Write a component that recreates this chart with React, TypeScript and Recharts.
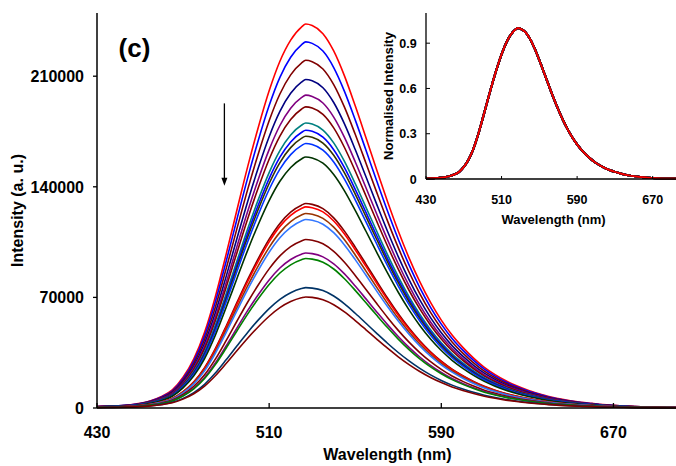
import React from 'react';
import { LineChart, Line, XAxis, YAxis, ReferenceLine, ReferenceDot } from 'recharts';

// Wavelength grid (nm)
const wavelengths = [
  430, 435, 440, 445, 450, 455, 460, 465, 470, 475, 480, 485, 490, 495, 500, 505, 510, 515, 520, 525, 527,
  530, 535, 540, 545, 550, 555, 560, 565, 570, 575, 580, 585, 590, 595, 600, 605, 610, 615, 620, 625, 630,
  635, 640, 645, 650, 655, 660, 665, 670, 680, 690, 700,
];

const normalisedProfile = [
  0.004, 0.005, 0.006, 0.008, 0.012, 0.019, 0.03, 0.047, 0.08, 0.128, 0.197, 0.29, 0.4, 0.515, 0.628, 0.732,
  0.826, 0.903, 0.958, 0.992, 1.0,
  0.996, 0.975, 0.93, 0.865, 0.787, 0.704, 0.62, 0.538, 0.461, 0.391, 0.329, 0.275, 0.229, 0.19, 0.158, 0.13,
  0.106, 0.087, 0.071, 0.058, 0.047, 0.038, 0.03, 0.024, 0.019, 0.015, 0.012, 0.009, 0.007, 0.004, 0.003, 0.002,
];

// Peak intensities (a. u.) of each spectrum, top to bottom
const peakIntensities = [
  243000, 231700, 220100, 207900, 198000, 190600, 180400, 175800, 172000, 167400, 158900,
  129400, 127300, 123100, 119300, 106600, 98100, 94600, 76200, 70300,
];

const seriesColors = [
  '#FF0000', '#0000FF', '#800000', '#000080', '#800080', '#800000', '#008080', '#0000FF', '#333300', '#0033FF', '#003300',
  '#800000', '#FF0000', '#993300', '#3377FF', '#800000', '#800080', '#008000', '#003366', '#800000',
];

const xTicks = [430, 510, 590, 670];
const yTicks = [0, 70000, 140000, 210000];
const insetYTicks = [0, 0.3, 0.6, 0.9];

const FONT = '"Liberation Sans", Arial, Helvetica, sans-serif';

const seriesKeys = peakIntensities.map((_, i) => `s${i}`);

const mainData = wavelengths.map((w, j) => {
  const row: Record<string, number> = { wl: w };
  peakIntensities.forEach((p, i) => {
    row[`s${i}`] = Math.round(p * normalisedProfile[j]);
  });
  return row;
});

const insetData = wavelengths.map((w, j) => {
  const row: Record<string, number> = { wl: w };
  peakIntensities.forEach((_, i) => {
    row[`s${i}`] = normalisedProfile[j];
  });
  return row;
});

const MainXTick = (props: any) => {
  const { x, y, payload } = props;
  return (
    <g>
      <line x1={x} x2={x} y1={y} y2={y - 5} stroke="#000" strokeWidth={1.3} />
      <text x={x} y={y + 30} textAnchor="middle" fontSize={16} fontWeight="bold" fontFamily={FONT} fill="#000">
        {payload.value}
      </text>
    </g>
  );
};

const MainYTick = (props: any) => {
  const { x, y, payload } = props;
  return (
    <g>
      <line x1={x - 4} x2={x} y1={y} y2={y} stroke="#000" strokeWidth={1.3} />
      <text x={x - 13} y={y + 5.7} textAnchor="end" fontSize={16} fontWeight="bold" fontFamily={FONT} fill="#000">
        {payload.value}
      </text>
    </g>
  );
};

const InsetXTick = (props: any) => {
  const { x, y, payload } = props;
  return (
    <g>
      <line x1={x} x2={x} y1={y} y2={y - 3} stroke="#000" strokeWidth={1} />
      <text x={x} y={y + 25.3} textAnchor="middle" fontSize={12.5} fontWeight="bold" fontFamily={FONT} fill="#000">
        {payload.value}
      </text>
    </g>
  );
};

const InsetYTick = (props: any) => {
  const { x, y, payload } = props;
  return (
    <g>
      <line x1={x} x2={x + 4} y1={y} y2={y} stroke="#000" strokeWidth={1} />
      <text x={x - 9.3} y={y + 4.5} textAnchor="end" fontSize={12.5} fontWeight="bold" fontFamily={FONT} fill="#000">
        {payload.value}
      </text>
    </g>
  );
};

const MainXLabel = (props: any) => {
  const vb = props.viewBox;
  return (
    <text x={vb.x + vb.width / 2} y={vb.y + 52} textAnchor="middle" fontSize={16} fontWeight="bold" fontFamily={FONT} fill="#000">
      Wavelength (nm)
    </text>
  );
};

const MainYLabel = (props: any) => {
  const vb = props.viewBox;
  const cx = vb.x + 23.3;
  const cy = vb.y + vb.height / 2;
  return (
    <text x={cx} y={cy} transform={`rotate(-90, ${cx}, ${cy})`} textAnchor="middle" fontSize={16} fontWeight="bold" fontFamily={FONT} fill="#000">
      Intensity (a. u.)
    </text>
  );
};

const InsetXLabel = (props: any) => {
  const vb = props.viewBox;
  return (
    <text x={vb.x + vb.width / 2} y={vb.y + 45.4} textAnchor="middle" fontSize={13} fontWeight="bold" fontFamily={FONT} fill="#000">
      Wavelength (nm)
    </text>
  );
};

const InsetYLabel = (props: any) => {
  const vb = props.viewBox;
  const cx = vb.x + 23;
  const cy = vb.y + vb.height / 2;
  return (
    <text x={cx} y={cy} transform={`rotate(-90, ${cx}, ${cy})`} textAnchor="middle" fontSize={13} fontWeight="bold" fontFamily={FONT} fill="#000">
      Normalised Intensity
    </text>
  );
};

const ArrowHead = (props: any) => {
  const { cx, cy } = props;
  return <path d={`M${cx - 3},${cy - 8} L${cx + 3},${cy - 8} L${cx},${cy} Z`} fill="#000" />;
};

const PanelLabel = (props: any) => {
  const { cx, cy } = props;
  return (
    <text x={cx} y={cy} textAnchor="start" fontSize={26} fontWeight="bold" fontFamily={FONT} fill="#000">
      (c)
    </text>
  );
};

export default function App() {
  const insetOrder = [...seriesKeys.slice(1), seriesKeys[0]];
  return (
    <div style={{ position: 'absolute', left: 0, top: 0, width: 676, height: 466, overflow: 'hidden', background: '#fff' }}>
      <div style={{ position: 'absolute', left: 0, top: 0 }}>
        <LineChart width={678} height={466} data={mainData} margin={{ top: 13, right: 0, left: 0, bottom: 0 }}>
          <XAxis
            dataKey="wl"
            type="number"
            domain={[430, 700]}
            ticks={xTicks}
            interval={0}
            tickSize={0}
            tickMargin={0}
            tickLine={false}
            tick={<MainXTick />}
            height={58}
            axisLine={{ stroke: '#000', strokeWidth: 1.5 }}
            label={MainXLabel}
          />
          <XAxis
            xAxisId="top"
            orientation="top"
            dataKey="wl"
            type="number"
            domain={[430, 700]}
            height={0}
            tick={false}
            tickLine={false}
            axisLine={{ stroke: '#000', strokeWidth: 1.5 }}
          />
          <YAxis
            type="number"
            domain={[0, 250000]}
            ticks={yTicks}
            interval={0}
            width={97}
            tickSize={0}
            tickMargin={0}
            tickLine={false}
            tick={<MainYTick />}
            axisLine={{ stroke: '#000', strokeWidth: 1.5 }}
            label={MainYLabel}
          />
          {seriesKeys.map((k, i) => (
            <Line
              key={k}
              dataKey={k}
              type="monotone"
              stroke={seriesColors[i]}
              strokeWidth={1.6}
              dot={false}
              activeDot={false}
              isAnimationActive={false}
            />
          ))}
          <ReferenceLine segment={[{ x: 489.2, y: 192800 }, { x: 489.2, y: 145000 }]} stroke="#000" strokeWidth={1.3} />
          <ReferenceDot x={489.2} y={140700} r={0} shape={ArrowHead} />
          <ReferenceDot x={440} y={222200} r={0} shape={PanelLabel} />
        </LineChart>
      </div>
      <div style={{ position: 'absolute', left: 370, top: 0 }}>
        <LineChart width={311} height={230} data={insetData} margin={{ top: 13, right: 0, left: 0, bottom: 0 }}>
          <XAxis
            dataKey="wl"
            type="number"
            domain={[430, 700]}
            ticks={xTicks}
            interval={0}
            tickSize={0}
            tickMargin={0}
            tickLine={false}
            tick={<InsetXTick />}
            height={51}
            axisLine={{ stroke: '#000', strokeWidth: 1.3 }}
            label={InsetXLabel}
          />
          <XAxis
            xAxisId="top"
            orientation="top"
            dataKey="wl"
            type="number"
            domain={[430, 700]}
            height={0}
            tick={false}
            tickLine={false}
            axisLine={{ stroke: '#000', strokeWidth: 1.3 }}
          />
          <YAxis
            type="number"
            domain={[0, 1.1]}
            ticks={insetYTicks}
            interval={0}
            width={56}
            tickSize={0}
            tickMargin={0}
            tickLine={false}
            tick={<InsetYTick />}
            axisLine={{ stroke: '#000', strokeWidth: 1.3 }}
            label={InsetYLabel}
          />
          {insetOrder.map((k) => {
            const i = seriesKeys.indexOf(k);
            const isTop = i === 0;
            return (
              <Line
                key={k}
                dataKey={k}
                type="monotone"
                stroke={seriesColors[i]}
                strokeWidth={isTop ? 1.5 : 2.0}
                dot={false}
                activeDot={false}
                isAnimationActive={false}
              />
            );
          })}
        </LineChart>
      </div>
    </div>
  );
}
